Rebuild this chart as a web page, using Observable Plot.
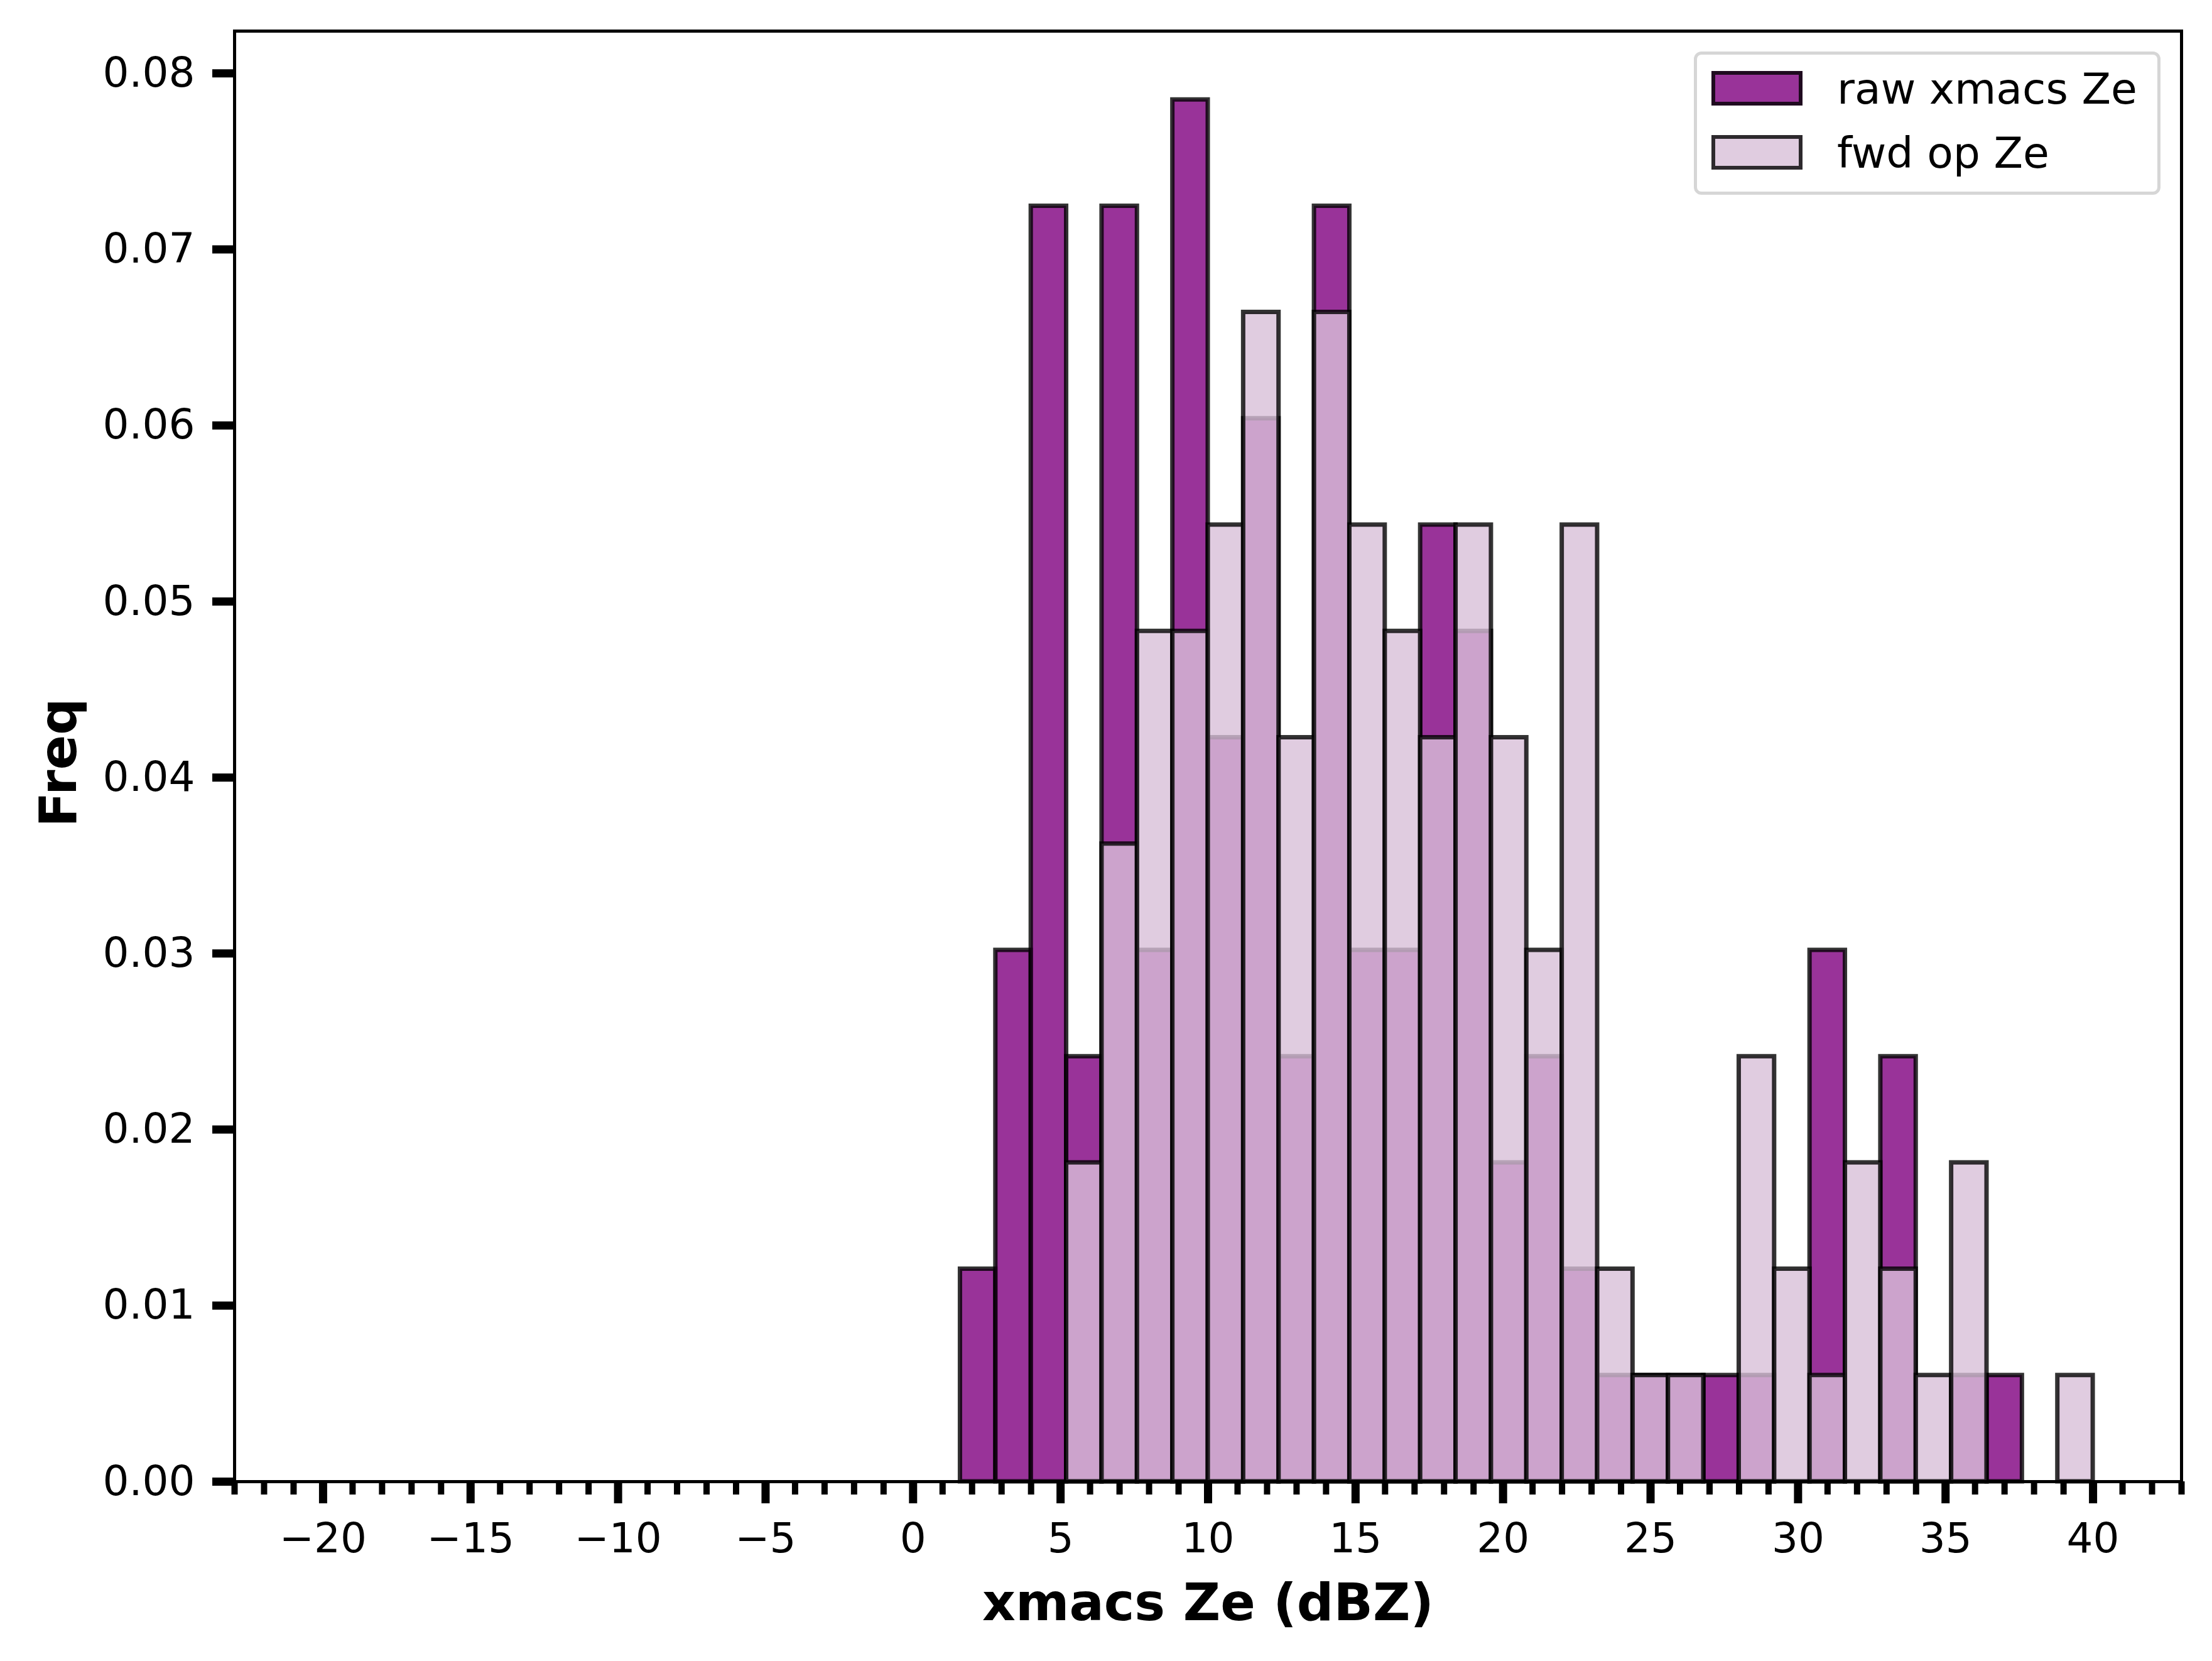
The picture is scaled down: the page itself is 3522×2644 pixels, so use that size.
<!DOCTYPE html>
<html>
<head>
<meta charset="utf-8">
<script src="https://cdn.jsdelivr.net/npm/d3@7"></script>
<script src="https://cdn.jsdelivr.net/npm/@observablehq/plot@0.6"></script>
<style>
  html, body { margin: 0; padding: 0; background: white; }
  #wrap { position: relative; width: 3522px; height: 2644px; font-family: "DejaVu Sans", sans-serif; }
  #legend { position: absolute; left: 2697px; top: 82px; width: 743px; height: 228px; box-sizing: border-box;
            border: 5px solid #d6d6d6; border-radius: 12px; background: rgba(255,255,255,0.8); }
  .sw { position: absolute; left: 2725px; width: 145px; height: 55px; box-sizing: border-box; border: 6px solid rgba(0,0,0,0.8); }
  .lt { position: absolute; left: 2925px; font-size: 68px; line-height: 68px; white-space: nowrap; color: black; font-family: "DejaVu Sans", sans-serif; }
</style>
</head>
<body>
<div id="wrap"></div>
<script>
// ---- data (bin edges in dBZ, density per bin) ----
const binEdges = [1.6, 2.8, 4.0, 5.2, 6.4, 7.6, 8.8, 10.0, 11.2, 12.4, 13.6, 14.8, 16.0, 17.2, 18.4, 19.6,
                  20.8, 22.0, 23.2, 24.4, 25.6, 26.8, 28.0, 29.2, 30.4, 31.6, 32.8, 34.0, 35.2, 36.4, 37.6, 38.8, 40.0];
const rawFreq = [0.01208, 0.03019, 0.07246, 0.02415, 0.07246, 0.03019, 0.07850, 0.04227, 0.06039, 0.02415, 0.07246,
                 0.03019, 0.03019, 0.05435, 0.04831, 0.01812, 0.02415, 0.01208, 0.00604, 0.00604, 0.00604, 0.00604,
                 0.00604, 0, 0.03019, 0, 0.02415, 0, 0.00604, 0.00604, 0, 0];
const fwdFreq = [0, 0, 0, 0.01812, 0.03623, 0.04831, 0.04831, 0.05435, 0.06643, 0.04227, 0.06643,
                 0.05435, 0.04831, 0.04227, 0.05435, 0.04227, 0.03019, 0.05435, 0.01208, 0.00604, 0.00604, 0,
                 0.02415, 0.01208, 0.00604, 0.01812, 0.01208, 0.00604, 0.01812, 0, 0, 0.00604];
const seriesNames = ["raw xmacs Ze", "fwd op Ze"];
const xMajorTicks = [-20, -15, -10, -5, 0, 5, 10, 15, 20, 25, 30, 35, 40];
const xMinorTicks = [-23, -22, -21, -19, -18, -17, -16, -14, -13, -12, -11, -9, -8, -7, -6, -4, -3, -2, -1,
                     1, 2, 3, 4, 6, 7, 8, 9, 11, 12, 13, 14, 16, 17, 18, 19, 21, 22, 23, 24, 26, 27, 28, 29,
                     31, 32, 33, 34, 36, 37, 38, 39, 41, 42, 43];
const yTicks = [0, 0.01, 0.02, 0.03, 0.04, 0.05, 0.06, 0.07, 0.08];
const xLabel = "xmacs Ze (dBZ)";
const yLabel = "Freq";

const bins = binEdges.slice(0, -1).map((x1, i) => ({x1, x2: binEdges[i + 1], raw: rawFreq[i], fwd: fwdFreq[i]}));
const fmtX = d => d < 0 ? "\u2212" + Math.abs(d) : String(d);

const chart = Plot.plot({
  width: 3522,
  height: 2644,
  marginLeft: 373,
  marginRight: 49,
  marginTop: 49,
  marginBottom: 286,
  x: {domain: [-23, 43]},
  y: {domain: [0, 0.0824]},
  style: {fontFamily: "DejaVu Sans", background: "white", color: "black"},
  marks: [
    Plot.rect(bins.filter(d => d.raw > 0), {x1: "x1", x2: "x2", y1: 0, y2: "raw", inset: 0,
      fill: "purple", fillOpacity: 0.8, stroke: "black", strokeOpacity: 0.8, strokeWidth: 7}),
    Plot.rect(bins.filter(d => d.fwd > 0), {x1: "x1", x2: "x2", y1: 0, y2: "fwd", inset: 0,
      fill: "thistle", fillOpacity: 0.8, stroke: "black", strokeOpacity: 0.8, strokeWidth: 7}),
    Plot.frame({stroke: "black", strokeWidth: 5}),
    Plot.axisX(xMinorTicks, {tickSize: 21, strokeWidth: 10, tickFormat: () => "", label: null}),
    Plot.axisX(xMajorTicks, {tickSize: 35, strokeWidth: 13, tickPadding: 31, fontSize: 66, tickFormat: fmtX, label: null}),
    Plot.axisY(yTicks, {tickSize: 35, strokeWidth: 13, tickPadding: 28, fontSize: 66, tickFormat: d3.format(".2f"), label: null}),
    Plot.text([xLabel], {frameAnchor: "bottom", lineAnchor: "middle", textAnchor: "middle", dy: 194,
      fontSize: 82, fontWeight: "bold", text: d => d}),
    Plot.text([yLabel], {frameAnchor: "left", lineAnchor: "middle", textAnchor: "middle", dx: -279, dy: 10, rotate: -90,
      fontSize: 82, fontWeight: "bold", text: d => d})
  ]
});

const wrap = document.getElementById("wrap");
wrap.appendChild(chart);

// legend overlay
const legend = document.createElement("div");
legend.id = "legend";
wrap.appendChild(legend);
const swFill = ["rgba(128,0,128,0.8)", "rgba(216,191,216,0.8)"];
const swTop = [113, 215];
const txtTop = [108, 210];
seriesNames.forEach((name, i) => {
  const sw = document.createElement("div");
  sw.className = "sw";
  sw.style.top = swTop[i] + "px";
  sw.style.background = swFill[i];
  wrap.appendChild(sw);
  const t = document.createElement("div");
  t.className = "lt";
  t.style.top = txtTop[i] + "px";
  t.textContent = name;
  wrap.appendChild(t);
});
</script>
</body>
</html>
